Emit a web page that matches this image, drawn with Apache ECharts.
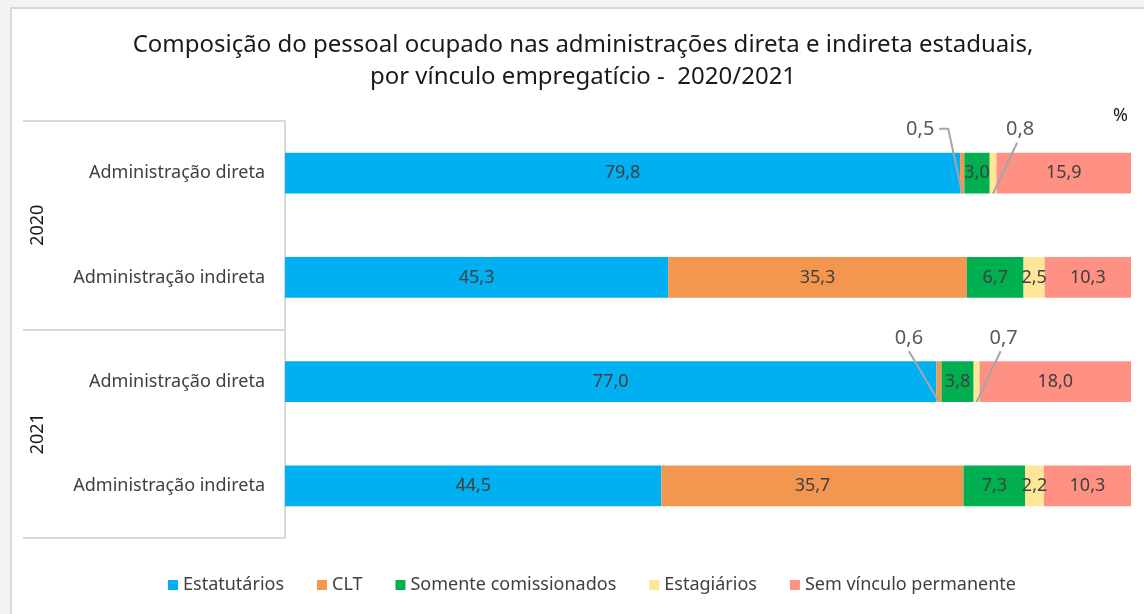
<!DOCTYPE html>
<html>
<head>
<meta charset="utf-8">
<script src="https://cdn.jsdelivr.net/npm/echarts@6/dist/echarts.min.js"></script>
<style>
  html, body { margin: 0; padding: 0; background: #f3f3f3; }
  #frame {
    position: absolute; left: 10px; top: 7px; width: 1200px; height: 700px;
    background: #fff; border: 2px solid #d9d9d9;
  }
  #chart { position: absolute; left: 0; top: 0; width: 1144px; height: 614px; }
</style>
</head>
<body>
<div id="frame"></div>
<div id="chart"></div>
<script>
// sub-categories and year groups (top to bottom)
const categories = ['Administração direta', 'Administração indireta', 'Administração direta', 'Administração indireta']
const years = ['2020', '2021']

// shares (%) per vínculo, one value per bar
const estatutarios = [79.8, 45.3, 77.0, 44.5]
const clt = [0.5, 35.3, 0.6, 35.7]
const comissionados = [3.0, 6.7, 3.8, 7.3]
const estagiarios = [0.8, 2.5, 0.7, 2.2]
const semVinculo = [15.9, 10.3, 18.0, 10.3]

const seriesNames = ['Estatutários', 'CLT', 'Somente comissionados', 'Estagiários', 'Sem vínculo permanente']
const seriesColors = ['#00B0F0', '#F29650', '#00B050', '#FFE699', '#FF9184']

// labels drawn above the bar with a leader line: [seriesIndex, dataIndex, dx, leaderStyle]
const outsideLabels = [
  [1, 0, -42, 0],
  [3, 0, 27, 1],
  [1, 2, -30, 1],
  [3, 2, 27, 1]
]

const FONT = 'Noto Sans'
const BAR = 0.39
const fmt = v => v.toFixed(1).replace('.', ',')
const allValues = [estatutarios, clt, comissionados, estagiarios, semVinculo]

const isOutside = (s, d) => outsideLabels.some(o => o[0] === s && o[1] === d)

const makeSeries = (values, idx) => ({
  name: seriesNames[idx],
  type: 'bar',
  stack: 'total',
  barWidth: (BAR * 100) + '%',
  itemStyle: { color: seriesColors[idx] },
  label: {
    show: true,
    position: 'inside',
    formatter: p => isOutside(idx, p.dataIndex) ? '' : fmt(p.value),
    color: '#404040',
    fontFamily: FONT,
    fontSize: 18
  },
  data: values
})

// leader data: [segment centre on the value axis, category index, value, dx, style]
const leaderData = outsideLabels.map(([s, d, dx, style]) => {
  let start = 0
  for (let i = 0; i < s; i++) start += allValues[i][d]
  const v = allValues[s][d]
  return [start + v / 2, d, v, dx, style]
})

const leaderSeries = {
  type: 'custom',
  z: 5,
  encode: { x: 0, y: 1 },
  data: leaderData,
  renderItem: (params, api) => {
    const c = api.coord([api.value(0), api.value(1)])
    const half = api.size([0, 1])[1] * BAR / 2
    const dx = api.value(3)
    const style = api.value(4)
    const lx = c[0] + dx
    const ly = c[1] - half - 23
    const tip = [c[0], c[1] + half]
    const pts = style === 0
      ? [[lx + 19, ly - 1], [lx + 28, ly - 1], tip]
      : [[lx + (dx < 0 ? 0 : -3), ly + 13], tip]
    return {
      type: 'group',
      children: [
        {
          type: 'polyline',
          shape: { points: pts },
          style: { stroke: '#a6a6a6', lineWidth: 2, fill: null }
        },
        {
          type: 'text',
          x: lx,
          y: ly,
          style: {
            text: fmt(api.value(2)),
            fontFamily: FONT,
            fontSize: 20,
            fill: '#595959',
            align: 'center',
            verticalAlign: 'middle'
          }
        }
      ]
    }
  }
}

const chart = echarts.init(document.getElementById('chart'))
chart.setOption({
  backgroundColor: 'transparent',
  animation: false,
  title: {
    text: 'Composição do pessoal ocupado nas administrações direta e indireta estaduais,\npor vínculo empregatício -  2020/2021',
    left: 578,
    top: 24,
    textAlign: 'center',
    textStyle: { fontFamily: FONT, fontSize: 24, fontWeight: 'normal', color: '#1a1a1a', lineHeight: 32 }
  },
  legend: {
    top: 571,
    left: 163,
    itemWidth: 10,
    itemHeight: 10,
    itemGap: 33,
    icon: 'rect',
    textStyle: { fontFamily: FONT, fontSize: 18, color: '#404040' },
    data: seriesNames
  },
  grid: { left: 285, right: 13, top: 121, bottom: 76 },
  xAxis: {
    type: 'value',
    min: 0,
    max: 100,
    show: false
  },
  yAxis: [
    {
      type: 'category',
      data: categories,
      inverse: true,
      axisLine: { show: true, lineStyle: { color: '#d9d9d9', width: 2 } },
      axisTick: { show: false },
      axisLabel: { margin: 20, fontFamily: FONT, fontSize: 18, color: '#404040' }
    },
    {
      type: 'category',
      data: years,
      inverse: true,
      position: 'left',
      axisLine: { show: false },
      axisTick: { show: true, length: 262, lineStyle: { color: '#d9d9d9', width: 2 } },
      axisLabel: { rotate: 90, margin: 238, fontFamily: FONT, fontSize: 18, color: '#1a1a1a' }
    }
  ],
  graphic: [
    {
      type: 'text',
      left: 1113,
      top: 107,
      style: { text: '%', fontFamily: FONT, fontSize: 18, fill: '#1a1a1a' }
    }
  ],
  series: allValues.map(makeSeries).concat([leaderSeries])
})
</script>
</body>
</html>
